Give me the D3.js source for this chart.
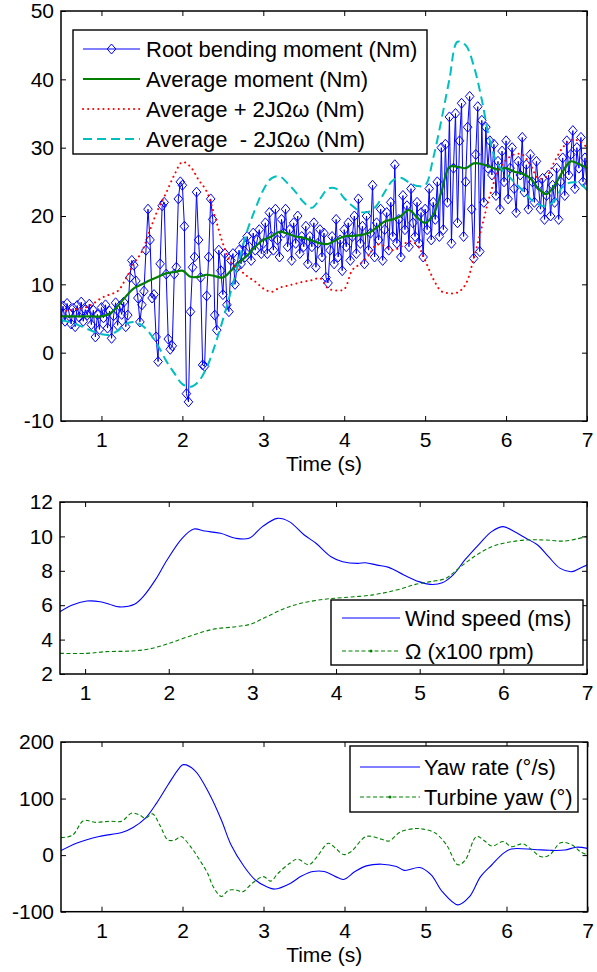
<!DOCTYPE html>
<html><head><meta charset="utf-8">
<script src="https://cdn.jsdelivr.net/npm/d3@7"></script>
<style>
body{margin:0;background:#fff}
svg text{font-family:"Liberation Sans",Arial,sans-serif;fill:#000}
</style>
</head><body>
<svg id="c" width="597" height="972"></svg>
<script>
// ---------- DATA ----------
// Top panel: root bending moment sampled from t=0.5 s every 0.025 s
const momentStart = 0.5, momentStep = 0.025;
const momentValues = [
 5,6.8,4.6,7.2,5.8,4.2,6.5,3.8,6.9,5.2,7.4,4.6,6.3,5.5,7.1,4.1,6.2,2.3,5.6,3.4,6.6,5.1,7.0,3.6,6.1,2.1,5.4,7.3,4.0,6.8,5.6,7.4,3.8,
 5.5,11,13.5,12.8,10.5,8,4.5,7,
 9,15,21,16.5,8,8.5,2.3,-1.3,13,21.5,
 22,11.5,2,0.5,1,11.5,12.5,22.5,25,24.5,
 18.5,-6,-7.2,6,12.5,14,23.5,16.5,11,-1.8,
 -2,8.3,14,22.5,19.5,5.5,3.3,15,12,8.5,
 14.5,7,6,13.5,14.5,10,12.5,15,13,16,
 14,17,15.5,13.5,17.5,15,16.5,18,14.5,16,
 19,14.5,20.5,17,15,21,16.5,14,19.5,17.5,21,15.5,18,13.5,19,16,20,14.5,17,15.5,
 18.5,13,17,15.5,19,12.5,16,18,14,17.5,11,10.2,15,17,13,19.5,14,16.5,12,18,
 15.5,19,13.5,17,20,14.5,22.5,16,18.5,13,20,15,17.5,24.5,14,19,16.5,21,13.5,18,
 20.5,15,22,17,27.5,16,19.5,14,23,18,21.5,15.5,24,19,17,22,16,20.5,14,21,
 18,24,16.5,22,19.5,25,17,30,
 18,30.5,22,34.5,16,27,35,19,31,36.5,17,25,33,37.5,21,13.8,29,36,14.8,34,22,33,27,31,
 26,30.5,23,28,21,29.5,25,31,22.5,27,30,24,20.5,28,26,31.5,23.5,27.5,21,29,25,22,28,24.5,
 21,25.5,19.5,23,26,20,24.5,22,27,19.5,25,28.5,23,31,26,29,32.5,24,30,27,31.5,25,28.5,24.5
];
const envTimes = [0.5,0.6,0.7,0.8,0.9,1.0,1.1,1.2,1.3,1.4,1.5,1.6,1.7,1.8,1.9,2.0,2.1,2.2,2.3,2.4,2.5,2.6,2.7,2.8,2.9,3.0,3.1,3.2,3.3,3.4,3.5,3.6,3.7,3.8,3.9,4.0,4.1,4.2,4.3,4.4,4.5,4.6,4.7,4.8,4.9,5.0,5.1,5.2,5.3,5.4,5.5,5.6,5.7,5.8,5.9,6.0,6.1,6.2,6.3,6.4,6.5,6.6,6.7,6.8,6.9,7.0];
const avgMoment = [5.3,5.3,5.3,5.3,5.3,5.3,5.7,6.8,8.2,9.4,10.0,10.6,11.1,11.6,11.8,12.0,11.1,11.1,11.4,11.2,11.0,12.0,13.2,14.2,15.5,16.5,17.0,17.7,17.4,17.0,16.8,16.4,16.0,15.9,16.5,17.0,17.1,17.2,17.5,18.3,19.2,19.5,20.0,20.9,19.8,19.0,20.2,23.5,27.2,27.2,27.0,27.7,27.6,27.2,26.8,27.0,26.5,26.2,25.5,24.0,23.2,24.5,26.5,28.0,27.6,27.0];
const avgPlus = [6.0,6.2,6.4,6.6,7.2,8.0,8.5,9.0,10.8,13.0,14.8,18.0,21.0,23.4,26.0,27.9,27.2,25.3,23.6,20.0,16.0,13.2,12.2,11.2,10.4,9.4,8.9,9.5,9.8,10.1,10.4,10.6,10.9,9.4,9.1,9.3,12.1,13.0,14.2,15.8,15.6,15.0,15.5,16.3,15.8,13.5,10.8,9.0,8.7,8.8,10.0,13.8,18.4,23.0,26.5,28.2,29.0,29.0,27.5,25.5,25.8,28.0,30.0,31.1,31.0,30.0];
const avgMinus = [4.8,4.5,4.1,3.6,3.1,2.7,2.6,3.2,4.2,4.5,4.0,2.8,1.0,-1.2,-3.0,-4.6,-5.0,-4.2,-2.2,1.0,4.8,9.0,13.5,17.8,21.0,23.8,25.5,25.8,24.8,23.5,22.0,21.2,22.5,24.0,24.0,22.6,21.5,20.6,20.6,21.5,23.5,25.2,25.6,24.9,24.4,24.5,28.5,34.0,40.0,45.5,45.0,42.0,37.0,31.0,27.5,26.2,25.0,23.8,22.5,21.7,21.4,22.3,24.3,24.9,24.8,23.8];

// Middle panel
const windT = [0.7,0.84,1.02,1.18,1.29,1.41,1.59,1.7,1.84,1.98,2.16,2.3,2.43,2.62,2.8,2.96,3.12,3.3,3.44,3.62,3.76,3.94,4.08,4.26,4.35,4.49,4.63,4.81,4.99,5.13,5.27,5.4,5.54,5.72,5.86,6.0,6.13,6.27,6.41,6.54,6.68,6.82,6.91,7.0];
const windV = [5.62,6.0,6.24,6.2,6.05,5.9,6.05,6.53,7.47,8.63,9.89,10.43,10.31,10.18,9.89,9.89,10.57,11.05,10.86,10.08,9.6,8.82,8.53,8.43,8.47,8.33,8.2,7.76,7.37,7.21,7.3,7.76,8.63,9.6,10.28,10.57,10.28,9.89,9.5,8.82,8.14,7.95,8.14,8.33];
const omegaT = [0.7,1.02,1.25,1.52,1.75,1.98,2.25,2.53,2.8,2.98,3.17,3.39,3.58,3.85,4.08,4.44,4.72,4.95,5.13,5.31,5.49,5.68,5.86,6.04,6.27,6.5,6.73,7.0];
const omegaV = [3.2,3.2,3.3,3.33,3.44,3.74,4.2,4.6,4.75,4.9,5.33,5.82,6.11,6.34,6.44,6.6,6.88,7.21,7.37,7.56,8.24,8.92,9.4,9.64,9.79,9.79,9.73,10.0];

// Bottom panel
const yawRateT = [0.5,0.69,0.97,1.25,1.39,1.54,1.68,1.82,1.96,2.01,2.15,2.34,2.48,2.6,2.76,2.9,3.04,3.14,3.33,3.47,3.61,3.75,3.89,3.99,4.13,4.27,4.46,4.64,4.74,4.93,5.07,5.21,5.4,5.54,5.68,5.82,5.96,6.06,6.34,6.53,6.72,6.86,7.0];
const yawRateV = [8,21,33,40,49,65,92,124,154,160,150,106,62,18,-20,-44,-56,-60,-50,-37,-29,-29,-38,-43,-29,-19,-16,-20,-27,-22,-35,-65,-88,-74,-38,-17,3,11,10,8.5,9,14,12];
const yawT = [0.5,0.64,0.78,0.92,1.11,1.25,1.37,1.47,1.54,1.63,1.72,1.82,1.91,1.98,2.1,2.2,2.31,2.38,2.48,2.57,2.67,2.74,2.86,3.0,3.09,3.18,3.33,3.42,3.56,3.66,3.8,3.89,3.99,4.08,4.27,4.46,4.55,4.69,4.88,4.97,5.12,5.26,5.4,5.49,5.63,5.73,5.82,5.96,6.06,6.2,6.29,6.43,6.53,6.67,6.81,6.91,7.0];
const yawV = [31,35,61,58,60,60,74,71,65,73,53,27,27,33,15,-6,-32,-56,-73,-62,-62,-65,-50,-38,-46,-32,-14,-7,-17,-3,21,12,1,6,33,28,25,41,47,46,39,18,-17,-9,33,25,16,24,15,20,12,-3,0,22,18,6,0];

// Ticks and labels
const timeTicks = [1,2,3,4,5,6,7];
const momentTicks = [-10,0,10,20,30,40,50];
const windTicks = [2,4,6,8,10,12];
const yawTicks = [-100,0,100,200];
const topLegend = ["Root bending moment (Nm)","Average moment (Nm)","Average + 2J\u03A9\u03C9 (Nm)","Average  - 2J\u03A9\u03C9 (Nm)"];
const midLegend = ["Wind speed (ms)","\u03A9 (x100 rpm)"];
const botLegend = ["Yaw rate (\u00B0/s)","Turbine yaw (\u00B0)"];
const xLabel = "Time (s)";

// ---------- DRAWING ----------
const svg = d3.select("#c");
const FS = 21, LFS = 22;
const BLUE = "#0000ff", GREEN = "#008000", RED = "#ff0000", CYAN = "#00bfbf";

const diamond = { draw(ctx, size) { const w = 4.3, h = 5; ctx.moveTo(0,-h); ctx.lineTo(w,0); ctx.lineTo(0,h); ctx.lineTo(-w,0); ctx.closePath(); } };

function panel(id, L, R, T, B, xd, yd, yTicks, withXLabel) {
  const x = d3.scaleLinear().domain(xd).range([L, R]);
  const y = d3.scaleLinear().domain(yd).range([B, T]);
  const g = svg.append("g");
  g.append("clipPath").attr("id", id).append("rect").attr("x", L).attr("y", T).attr("width", R - L).attr("height", B - T);
  const data = g.append("g").attr("clip-path", `url(#${id})`);
  const fmt = d => String(d);
  const ax = [];
  ax.push(g.append("g").attr("transform", `translate(0,${B})`).call(d3.axisBottom(x).tickValues(timeTicks).tickSize(-5).tickPadding(11).tickFormat(fmt)));
  ax.push(g.append("g").attr("transform", `translate(0,${T})`).call(d3.axisTop(x).tickValues(timeTicks).tickSize(-5).tickFormat("")));
  ax.push(g.append("g").attr("transform", `translate(${L},0)`).call(d3.axisLeft(y).tickValues(yTicks).tickSize(-5).tickPadding(7).tickFormat(fmt)));
  ax.push(g.append("g").attr("transform", `translate(${R},0)`).call(d3.axisRight(y).tickValues(yTicks).tickSize(-5).tickFormat("")));
  ax.forEach(a => {
    a.select(".domain").remove();
    a.attr("font-size", FS).attr("font-family", "Liberation Sans, Arial, sans-serif");
    a.selectAll(".tick line").attr("stroke", "#000").attr("stroke-width", 1);
    a.selectAll(".tick text").attr("fill", "#000");
  });
  if (withXLabel) {
    g.append("text").attr("x", (L + R) / 2).attr("y", B + 50).attr("text-anchor", "middle").attr("font-size", FS).text(xLabel);
  }
  const front = g.append("g");
  return { x, y, data, front, L, R, T, B };
}

function legend(p, box, items) {
  const lg = p.front.append("g");
  lg.append("rect").attr("x", box.x).attr("y", box.y).attr("width", box.w).attr("height", box.h)
    .attr("fill", "#fff").attr("stroke", "#000").attr("stroke-width", 1.4);
  items.forEach((it, i) => {
    const cy = box.rows[i];
    lg.append("line").attr("x1", box.l1).attr("x2", box.l2).attr("y1", cy).attr("y2", cy)
      .attr("stroke", it.color).attr("stroke-width", it.width).attr("stroke-dasharray", it.dash || null)
      .attr("stroke-linecap", it.cap || "butt");
    if (it.marker === "diamond") {
      lg.append("path").attr("d", d3.symbol().type(diamond)()).attr("transform", `translate(${(box.l1 + box.l2) / 2},${cy})`)
        .attr("fill", "none").attr("stroke", it.color).attr("stroke-width", 1);
    } else if (it.marker === "dot") {
      lg.append("circle").attr("cx", (box.l1 + box.l2) / 2).attr("cy", cy).attr("r", 1.5).attr("fill", it.color);
    }
    lg.append("text").attr("x", box.tx).attr("y", cy).attr("dy", "0.36em").attr("font-size", LFS)
      .attr("xml:space", "preserve").style("white-space", "pre").text(it.label);
  });
}

function frame(p) {
  p.front.append("rect").attr("x", p.L).attr("y", p.T).attr("width", p.R - p.L).attr("height", p.B - p.T)
    .attr("fill", "none").attr("stroke", "#000").attr("stroke-width", 1.5);
}

// ----- Top panel -----
const p1 = panel("clip1", 61, 587, 11, 421, [0.5, 7], [-10, 50], momentTicks, true);
const momentPts = momentValues.map((v, i) => [momentStart + i * momentStep, v]);
const lineXY = d3.line().x(d => p1.x(d[0])).y(d => p1.y(d[1]));
p1.data.append("path").datum(momentPts).attr("d", lineXY).attr("fill", "none").attr("stroke", BLUE).attr("stroke-width", 1);
p1.data.selectAll("path.dm").data(momentPts).join("path").attr("class", "dm")
  .attr("d", d3.symbol().type(diamond)())
  .attr("transform", d => `translate(${p1.x(d[0])},${p1.y(d[1])})`)
  .attr("fill", "none").attr("stroke", BLUE).attr("stroke-width", 1);
const smooth1 = d3.line().x(d => p1.x(d[0])).y(d => p1.y(d[1])).curve(d3.curveCatmullRom.alpha(0.5));
p1.data.append("path").datum(envTimes.map((t, i) => [t, avgMoment[i]])).attr("d", smooth1)
  .attr("fill", "none").attr("stroke", GREEN).attr("stroke-width", 2.2);
p1.data.append("path").datum(envTimes.map((t, i) => [t, avgPlus[i]])).attr("d", smooth1)
  .attr("fill", "none").attr("stroke", RED).attr("stroke-width", 2).attr("stroke-dasharray", "0.1,5").attr("stroke-linecap", "round");
p1.data.append("path").datum(envTimes.map((t, i) => [t, avgMinus[i]])).attr("d", smooth1)
  .attr("fill", "none").attr("stroke", CYAN).attr("stroke-width", 2).attr("stroke-dasharray", "9,5");
frame(p1);
legend(p1, { x: 73, y: 30, w: 354, h: 124, l1: 83, l2: 140, tx: 146, rows: [49, 79, 109, 139] }, [
  { label: topLegend[0], color: BLUE, width: 1, marker: "diamond" },
  { label: topLegend[1], color: GREEN, width: 2.2 },
  { label: topLegend[2], color: RED, width: 2, dash: "0.1,5", cap: "round" },
  { label: topLegend[3], color: CYAN, width: 2, dash: "9,5" }
]);

// ----- Middle panel -----
const p2 = panel("clip2", 60, 587, 502, 674, [0.7, 7], [2, 12], windTicks, false);
const smooth2 = d3.line().x(d => p2.x(d[0])).y(d => p2.y(d[1])).curve(d3.curveCatmullRom.alpha(0.5));
p2.data.append("path").datum(windT.map((t, i) => [t, windV[i]])).attr("d", smooth2)
  .attr("fill", "none").attr("stroke", BLUE).attr("stroke-width", 1.1);
p2.data.append("path").datum(omegaT.map((t, i) => [t, omegaV[i]])).attr("d", smooth2)
  .attr("fill", "none").attr("stroke", GREEN).attr("stroke-width", 1.1).attr("stroke-dasharray", "4,2.5");
frame(p2);
legend(p2, { x: 331, y: 600, w: 252, h: 65, l1: 342, l2: 400, tx: 405, rows: [618, 651] }, [
  { label: midLegend[0], color: BLUE, width: 1.1 },
  { label: midLegend[1], color: GREEN, width: 1.1, dash: "4,2.5", marker: "dot" }
]);

// ----- Bottom panel -----
const p3 = panel("clip3", 61, 587.5, 742, 911.7, [0.5, 7], [-100, 200], yawTicks, true);
const smooth3 = d3.line().x(d => p3.x(d[0])).y(d => p3.y(d[1])).curve(d3.curveCatmullRom.alpha(0.5));
p3.data.append("path").datum(yawRateT.map((t, i) => [t, yawRateV[i]])).attr("d", smooth3)
  .attr("fill", "none").attr("stroke", BLUE).attr("stroke-width", 1.1);
p3.data.append("path").datum(yawT.map((t, i) => [t, yawV[i]])).attr("d", smooth3)
  .attr("fill", "none").attr("stroke", GREEN).attr("stroke-width", 1.1).attr("stroke-dasharray", "4,2.5");
frame(p3);
legend(p3, { x: 350, y: 746, w: 228, h: 66, l1: 360, l2: 420, tx: 424, rows: [767, 797] }, [
  { label: botLegend[0], color: BLUE, width: 1.1 },
  { label: botLegend[1], color: GREEN, width: 1.1, dash: "4,2.5", marker: "dot" }
]);
</script>
</body></html>
